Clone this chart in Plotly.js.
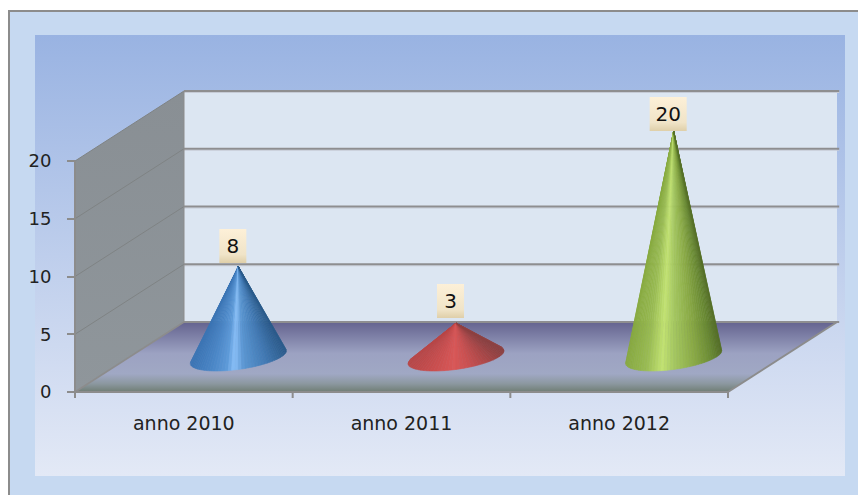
<!DOCTYPE html>
<html>
<head>
<meta charset="utf-8">
<script src="https://cdn.plot.ly/plotly-3.0.1.min.js"></script>
<style>html,body{margin:0;padding:0;background:#fff}#chart{width:858px;height:495px}</style>
</head>
<body>
<div id="chart"></div>
<script>
// Chart content
const categories = ["anno 2010", "anno 2011", "anno 2012"];
const values = [8, 3, 20];
const yTicks = [0, 5, 10, 15, 20];

// Shading across each cone, left silhouette to right silhouette
const coneShades = [
  [[0, "#3a74b4"], [0.22, "#4a86c6"], [0.38, "#5d9ad8"], [0.46, "#8bc0f8"], [0.56, "#5b96d2"], [0.78, "#447cb6"], [1, "#2c5c8c"]],
  [[0, "#b84646"], [0.3, "#cc5050"], [0.48, "#d85858"], [0.65, "#c85050"], [0.85, "#a84646"], [1, "#8c4040"]],
  [[0, "#88aa40"], [0.22, "#9abc54"], [0.38, "#c2e272"], [0.5, "#a6c862"], [0.72, "#8aaa46"], [0.9, "#6a8a34"], [1, "#567028"]]
];

// Page-to-axis mapping: one category is 217.67px wide, one value unit 11.55px tall
const W = 858, H = 495;
const PX_PER_CAT = 217.67, PX_PER_UNIT = 11.55;
const xOf = px => -0.5 + (px - 75) / PX_PER_CAT;
const yOf = py => (392 - py) / PX_PER_UNIT;

// Oblique projection of the 3D box: how far the back plane shifts in axis units
const DEPTH_X = 109 / PX_PER_CAT, DEPTH_Y = 70 / PX_PER_UNIT;
const X0 = -0.5, X1 = categories.length - 0.5, YMAX = yTicks[yTicks.length - 1];
const CONE_SCALE = 0.978; // foreshortening of height at mid depth

const traces = [];
const base = {hoverinfo: "skip", showlegend: false};

function poly(xs, ys, color, extra) {
  traces.push(Object.assign({}, base, {
    x: xs, y: ys, mode: "lines", fill: "toself", fillcolor: color,
    line: {width: 0, color: color}
  }, extra || {}));
}
function gradPoly(xs, ys, stops) {
  traces.push(Object.assign({}, base, {
    x: xs, y: ys, mode: "none", fill: "toself",
    fillgradient: {type: "vertical", colorscale: stops}
  }));
}
function stroke(xs, ys, color, width) {
  traces.push(Object.assign({}, base, {
    x: xs, y: ys, mode: "lines", line: {color: color, width: width}
  }));
}

// Slide background
poly([xOf(9), xOf(858), xOf(858), xOf(9)], [yOf(11), yOf(11), yOf(495), yOf(495)], "#c6d9f1");
stroke([xOf(9), xOf(9), xOf(858)], [yOf(495), yOf(11), yOf(11)], "#8c8c8c", 2);

// Inner panel
gradPoly([xOf(35), xOf(845), xOf(845), xOf(35)], [yOf(35), yOf(35), yOf(476), yOf(476)],
  [[0, "#e3e9f6"], [1, "#99b3e2"]]);

// Back wall
poly([X0 + DEPTH_X, X1 + DEPTH_X, X1 + DEPTH_X, X0 + DEPTH_X],
     [DEPTH_Y, DEPTH_Y, YMAX + DEPTH_Y, YMAX + DEPTH_Y], "#dce6f2");

// Side wall
gradPoly([X0, X0 + DEPTH_X, X0 + DEPTH_X, X0], [0, DEPTH_Y, YMAX + DEPTH_Y, YMAX],
  [[0, "#8f969b"], [1, "#898f94"]]);

// Floor
gradPoly([X0, X1, X1 + DEPTH_X, X0 + DEPTH_X], [0, 0, DEPTH_Y, DEPTH_Y],
  [[0, "#6f7d74"], [0.12, "#8c98a0"], [0.26, "#a0a8c4"], [0.55, "#9ca2c2"], [1, "#64638f"]]);

// Gridlines on both walls
yTicks.forEach(v => {
  if (v > 0) {
    stroke([X0, X0 + DEPTH_X], [v, v + DEPTH_Y], "#7f8384", 1);
    stroke([X0 + DEPTH_X, X1 + DEPTH_X + 0.01], [v + DEPTH_Y - 0.13, v + DEPTH_Y - 0.13], "#c6cbd6", 1);
  }
  stroke([X0 + DEPTH_X, X1 + DEPTH_X + 0.01], [v + DEPTH_Y, v + DEPTH_Y], "#8e8e90", 2);
});

// Box edges and axis lines
stroke([X0, X0], [0, YMAX], "#8c8c8c", 2);
stroke([X0, X0 + DEPTH_X], [0, DEPTH_Y], "#8c8c8c", 1.5);
stroke([X0 + DEPTH_X, X0 + DEPTH_X], [DEPTH_Y, YMAX + DEPTH_Y], "#8c8c8c", 1);
stroke([X1, X1 + DEPTH_X], [0, DEPTH_Y], "#8c8c8c", 2);
stroke([X0, X1], [0, 0], "#8c8c8c", 2);

// Category boundary ticks below the axis line
categories.concat([""]).forEach((c, i) => {
  stroke([X0 + i, X0 + i], [0, -6 / PX_PER_UNIT], "#8c8c8c", 2);
});

// Colour interpolation for the cone shading
function shade(stops, t) {
  let k = 0;
  while (k < stops.length - 2 && t > stops[k + 1][0]) k++;
  const [t0, c0] = stops[k], [t1, c1] = stops[k + 1];
  const f = Math.min(1, Math.max(0, (t - t0) / (t1 - t0)));
  const ch = (c, p) => parseInt(c.substr(p, 2), 16);
  const mix = p => Math.round(ch(c0, p) + (ch(c1, p) - ch(c0, p)) * f);
  return "rgb(" + mix(1) + "," + mix(3) + "," + mix(5) + ")";
}

// Each cone: the front of the surface, split into narrow wedges from the apex to the base ellipse
const SLICES = 48;
const RX = 42.7 / PX_PER_CAT, SHEAR = 22 / PX_PER_CAT, RY = 14 / PX_PER_UNIT;
const apexes = [];
values.forEach((v, i) => {
  const cx = i + 0.5 * DEPTH_X, cy = 0.5 * DEPTH_Y;
  const ax = cx, ay = cy + v * CONE_SCALE;
  apexes.push([ax, ay]);
  const pt = th => [cx + RX * Math.cos(th) + SHEAR * Math.sin(th), cy + RY * Math.sin(th)];

  // Silhouette angles: extreme bearing seen from the apex, in pixels
  const bearing = th => {
    const p = pt(th);
    return Math.atan2((p[0] - ax) * PX_PER_CAT, (ay - p[1]) * PX_PER_UNIT);
  };
  let thL = Math.PI, thR = 2 * Math.PI, bL = Infinity, bR = -Infinity;
  for (let d = 0; d < 720; d++) {
    const th = Math.PI * 0.5 + d / 720 * 2 * Math.PI;
    const b = bearing(th);
    if (b < bL) { bL = b; thL = th; }
    if (b > bR) { bR = b; thR = th; }
  }
  if (thR < thL) thR += 2 * Math.PI;

  const xs = [];
  for (let s = 0; s <= SLICES; s++) xs.push(pt(thL + (thR - thL) * s / SLICES)[0]);
  const xMin = Math.min(...xs), xMax = Math.max(...xs);
  for (let s = 0; s < SLICES; s++) {
    const a = thL + (thR - thL) * s / SLICES, b = thL + (thR - thL) * (s + 1) / SLICES;
    const p = pt(a), q = pt(b), m = pt((a + b) / 2);
    const color = shade(coneShades[i], (m[0] - xMin) / (xMax - xMin));
    poly([ax, p[0], q[0], ax], [ay, p[1], q[1], ay], color, {line: {width: 0.6, color: color}});
  }
});

// Value labels on cream boxes above each apex
const LABEL_H = 34 / PX_PER_UNIT;
const LABEL_BASE = (392 - 351) / PX_PER_UNIT, LABEL_SCALE = 11 / PX_PER_UNIT;
values.forEach((v, i) => {
  const ax = apexes[i][0];
  const halfW = (String(v).length > 1 ? 18.5 : 13.5) / PX_PER_CAT;
  const cx = ax - 5.5 / PX_PER_CAT;
  const bottom = LABEL_BASE + v * LABEL_SCALE;
  gradPoly([cx - halfW, cx + halfW, cx + halfW, cx - halfW],
           [bottom, bottom, bottom + LABEL_H, bottom + LABEL_H],
           [[0, "#dfcfa9"], [0.25, "#f0e4c8"], [1, "#fdf0d8"]]);
  traces.push(Object.assign({}, base, {
    x: [cx], y: [bottom + LABEL_H / 2 - 2 / PX_PER_UNIT], mode: "text", text: [String(v)],
    textposition: "middle center",
    textfont: {family: "DejaVu Sans, sans-serif", size: 20, color: "#111"}
  }));
});

const layout = {
  width: W, height: H,
  margin: {l: 0, r: 0, t: 0, b: 0},
  paper_bgcolor: "#ffffff",
  plot_bgcolor: "rgba(0,0,0,0)",
  showlegend: false,
  xaxis: {
    range: [xOf(0), xOf(W)], anchor: "free", position: 1 - 392 / H,
    tickmode: "array", tickvals: categories.map((c, i) => i), ticktext: categories,
    ticks: "outside", ticklen: 14, tickcolor: "rgba(0,0,0,0)",
    showgrid: false, zeroline: false, showline: false,
    tickfont: {family: "DejaVu Sans, sans-serif", size: 19, color: "#222"}
  },
  yaxis: {
    range: [yOf(H), yOf(0)], anchor: "free", position: 75 / W,
    tickmode: "array", tickvals: yTicks, ticktext: yTicks.map(String),
    ticks: "outside", ticklen: 8, tickwidth: 2, tickcolor: "#8c8c8c",
    ticklabelstandoff: 12,
    showgrid: false, zeroline: false, showline: false,
    tickfont: {family: "DejaVu Sans, sans-serif", size: 18, color: "#222"}
  }
};

Plotly.newPlot("chart", traces, layout, {displayModeBar: false, staticPlot: true});
</script>
</body>
</html>
